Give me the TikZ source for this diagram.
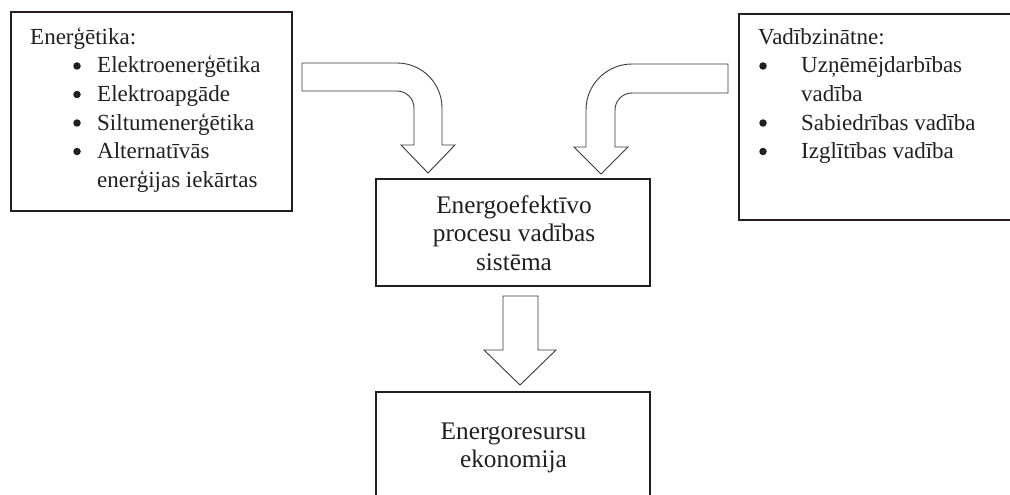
\documentclass[tikz,border=0pt]{standalone}
\usepackage{fontspec}
\setmainfont{Liberation Serif}
\definecolor{ink}{HTML}{231F20}
\definecolor{arrowline}{HTML}{3A3A3A}
\begin{document}
\begin{tikzpicture}[x=1pt,y=-1pt,
  box/.style={draw=ink,line width=1.8pt,inner sep=0pt,rectangle},
  blockarrow/.style={draw=arrowline,line width=0.9pt,fill=white,line join=miter},
  txt/.style={inner sep=0pt,text=ink,font=\fontsize{23}{28.5}\selectfont},
  bigtxt/.style={inner sep=0pt,text=ink,font=\fontsize{25.3}{28.5}\selectfont,anchor=base},
  lt/.style={txt,anchor=base west},
  dot/.style={circle,fill=ink,inner sep=0pt,minimum size=7.5pt},
]
\useasboundingbox (0,0) rectangle (1010,495);
% boxes
\node[box,minimum width=281pt,minimum height=199pt] (leftbox) at (151.5,111.5) {};
\node[box,minimum width=281pt,minimum height=206pt] (rightbox) at (879.5,117) {};
\node[box,minimum width=274pt,minimum height=107pt] (midbox) at (513,232.5) {};
\node[box,minimum width=274pt,minimum height=128pt] (botbox) at (513,456) {};
% left box text
\node[lt] (lt0) at (30,44.5) {Enerģētika:};
\node[dot] (lb1) at (77,66) {};
\node[lt] (lt1) at (97,73) {Elektroenerģētika};
\node[dot] (lb2) at (77,94.5) {};
\node[lt] (lt2) at (97,101.5) {Elektroapgāde};
\node[dot] (lb3) at (77,123) {};
\node[lt] (lt3) at (97,130) {Siltumenerģētika};
\node[dot] (lb4) at (77,151.5) {};
\node[lt] (lt4) at (97,158.5) {Alternatīvās};
\node[lt] (lt5) at (97,187) {enerģijas iekārtas};
% right box text
\node[lt] (rt0) at (758,44.5) {Vadībzinātne:};
\node[dot] (rb1) at (763,66) {};
\node[lt] (rt1) at (801,73) {Uzņēmējdarbības};
\node[lt] (rt2) at (801,101.5) {vadība};
\node[dot] (rb2) at (763,123) {};
\node[lt] (rt3) at (801,130) {Sabiedrības vadība};
\node[dot] (rb3) at (763,151.5) {};
\node[lt] (rt4) at (801,158.5) {Izglītības vadība};
% middle box text
\node[bigtxt] (mt1) at (514,213) {Energoefektīvo};
\node[bigtxt] (mt2) at (514,241.5) {procesu vadības};
\node[bigtxt] (mt3) at (514,270) {sistēma};
% bottom box text
\node[bigtxt] (bt1) at (513.5,439) {Energoresursu};
\node[bigtxt] (bt2) at (513.5,467.5) {ekonomija};
% left curved block arrow
\draw[blockarrow] (302,63) -- (397,63) arc[start angle=90,end angle=0,radius=45pt]
  -- (442,145) -- (455,145) -- (428,173) -- (401,145) -- (414,145) -- (414,108)
  arc[start angle=0,end angle=90,radius=17pt] -- (302,91) -- cycle;
% right curved block arrow
\draw[blockarrow] (728,64) -- (632,64) arc[start angle=90,end angle=180,radius=46pt]
  -- (586,147) -- (574,147) -- (601,174) -- (628,147) -- (615,147) -- (615,110)
  arc[start angle=180,end angle=90,radius=17pt] -- (728,93) -- cycle;
% down block arrow
\draw[blockarrow] (503,296) -- (538,296) -- (538,350) -- (556,350) -- (520,385)
  -- (484,350) -- (503,350) -- cycle;
\end{tikzpicture}
\end{document}
